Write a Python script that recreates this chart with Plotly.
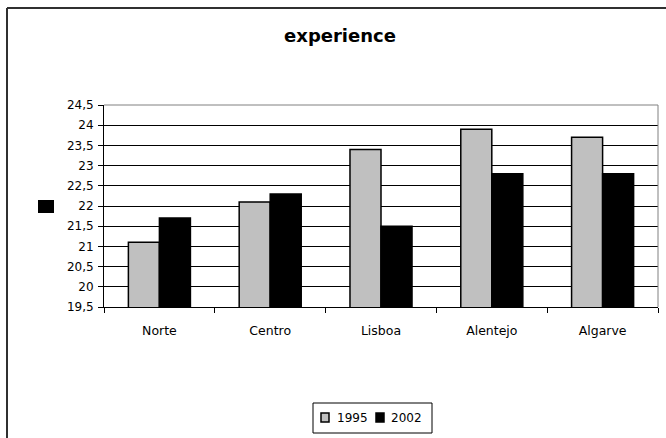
import plotly.graph_objects as go

regions = ["Norte", "Centro", "Lisboa", "Alentejo", "Algarve"]
series_names = ["1995", "2002"]
values_1995 = [21.1, 22.1, 23.4, 23.9, 23.7]
values_2002 = [21.7, 22.3, 21.5, 22.8, 22.8]
y_ticks = [19.5, 20, 20.5, 21, 21.5, 22, 22.5, 23, 23.5, 24, 24.5]

W, H = 666, 438
L, R, T, B = 104, 658, 105, 307  # plot area in pixels

FONT = "DejaVu Sans, Liberation Sans, Arial, sans-serif"
fill_colors = ["#c0c0c0", "black"]


def px_x(x):
    return (x - L) / (R - L)


def px_y(y):
    return (B - y) / (B - T)


fig = go.Figure()
for name, vals, col in zip(series_names, [values_1995, values_2002], fill_colors):
    fig.add_trace(go.Bar(
        x=regions, y=vals, name=name,
        marker=dict(color=col, line=dict(color="black", width=1.5)),
    ))

fig.update_layout(
    width=W, height=H,
    margin=dict(l=L, r=W - R, t=T, b=H - B, pad=0),
    paper_bgcolor="white", plot_bgcolor="white",
    separators=", ",
    font=dict(family=FONT, size=12, color="black"),
    barmode="group", bargap=0.44, bargroupgap=0,
    title=dict(text="<b>experience</b>", x=340 / W, xanchor="center",
               y=1 - 36 / H, yanchor="middle",
               font=dict(family=FONT, size=18, color="black")),
    showlegend=False,
)

fig.update_yaxes(
    range=[19.5, 24.5], tickvals=y_ticks,
    showgrid=True, gridcolor="black", gridwidth=1,
    showline=True, linecolor="black", linewidth=1,
    ticks="outside", ticklen=5, tickcolor="black",
    ticklabelstandoff=2,
    tickfont=dict(family=FONT, size=12),
    zeroline=False,
)
fig.update_xaxes(
    showline=True, linecolor="black", linewidth=1,
    ticks="outside", ticklen=5, tickcolor="black",
    tickson="boundaries", showgrid=False,
    ticklabelstandoff=12,
    tickfont=dict(family=FONT, size=12.5),
)

# gray frame on top and right of the plot area
fig.add_shape(type="line", xref="paper", yref="paper", x0=0, x1=1, y0=1, y1=1,
              line=dict(color="#808080", width=1))
fig.add_shape(type="line", xref="paper", yref="paper", x0=1, x1=1, y0=0, y1=1,
              line=dict(color="#808080", width=1))

# chart frame (left and top edges)
fig.add_shape(type="line", xref="paper", yref="paper",
              x0=px_x(7), x1=px_x(7), y0=px_y(8), y1=px_y(440),
              line=dict(color="#303030", width=2))
fig.add_shape(type="line", xref="paper", yref="paper",
              x0=px_x(7), x1=px_x(667), y0=px_y(8), y1=px_y(8),
              line=dict(color="#303030", width=2))

# small black box left of the value axis
fig.add_shape(type="rect", xref="paper", yref="paper",
              x0=px_x(38), x1=px_x(54), y0=px_y(200), y1=px_y(213),
              fillcolor="black", line=dict(width=0))

# legend box with one swatch and label per series
fig.add_shape(type="rect", xref="paper", yref="paper",
              x0=px_x(313), x1=px_x(432), y0=px_y(403), y1=px_y(433),
              fillcolor="white", line=dict(color="black", width=1))
swatch_x = [321, 376]
label_x = [335, 389]
for name, col, sx, lx in zip(series_names, fill_colors, swatch_x, label_x):
    fig.add_shape(type="rect", xref="paper", yref="paper",
                  x0=px_x(sx), x1=px_x(sx + 8), y0=px_y(413), y1=px_y(422),
                  fillcolor=col, line=dict(color="black", width=1.5))
    fig.add_annotation(text=name, xref="paper", yref="paper",
                       x=px_x(lx), y=px_y(418), xanchor="left", yanchor="middle",
                       showarrow=False, font=dict(family=FONT, size=12, color="black"))

fig.write_html("out.html")
